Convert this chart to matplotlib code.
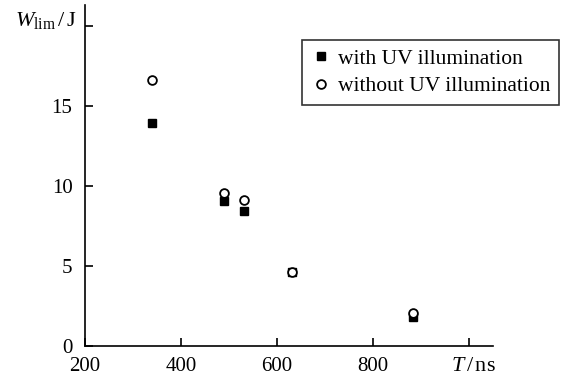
import matplotlib.pyplot as plt

# data
t_with = [339, 490, 532, 630, 884]
w_with = [13.9, 9.05, 8.45, 4.6, 1.8]
t_without = [339, 490, 532, 630, 884]
w_without = [16.6, 9.55, 9.1, 4.6, 2.05]

xticks = [200, 400, 600, 800, 1000]
xticklabels = ['200', '400', '600', '800', '']
yticks = [0, 5, 10, 15, 20]
yticklabels = ['0', '5', '10', '15', '']

plt.rcParams['font.family'] = ['Liberation Serif', 'DejaVu Serif']
plt.rcParams['mathtext.fontset'] = 'custom'
plt.rcParams['mathtext.rm'] = 'Liberation Serif'
plt.rcParams['mathtext.it'] = 'Liberation Serif:italic'

fig = plt.figure(figsize=(5.63, 3.8), dpi=100)
ax = fig.add_axes([0.151, 0.09, 0.725, 0.897])

ax.plot(t_with, w_with, 's', color='black', markersize=6.2, label='with UV illumination')
ax.plot(t_without, w_without, 'o', markerfacecolor='white', markeredgecolor='black',
        markeredgewidth=1.3, markersize=6.3, label='without UV illumination')

ax.set_xlim(200, 1050)
ax.set_ylim(0, 21.3)
ax.set_xticks(xticks)
ax.set_xticklabels(xticklabels)
ax.set_yticks(yticks)
ax.set_yticklabels(yticklabels)
ax.tick_params(direction='in', length=6, width=1.2, labelsize=15)
ax.tick_params(axis='x', pad=8)
ax.tick_params(axis='y', pad=9)

for s in ['top', 'right']:
    ax.spines[s].set_visible(False)
for s in ['left', 'bottom']:
    ax.spines[s].set_linewidth(1.2)

fig.text(0.027, 0.945, r'$W_{\rm lim}\,/\,$J', fontsize=16, ha='left', va='center')
fig.text(0.84, 0.035, r'$T\,/\,$ns', fontsize=16, ha='center', va='center')

leg = ax.legend(loc='upper right', bbox_to_anchor=(1.162, 0.897), fontsize=15.5,
                frameon=True, fancybox=False, edgecolor='black', handletextpad=0.3,
                handlelength=1.0, borderpad=0.4, labelspacing=0.35, borderaxespad=0)
leg.get_frame().set_linewidth(1.2)

fig.savefig('out.png', dpi=100)
